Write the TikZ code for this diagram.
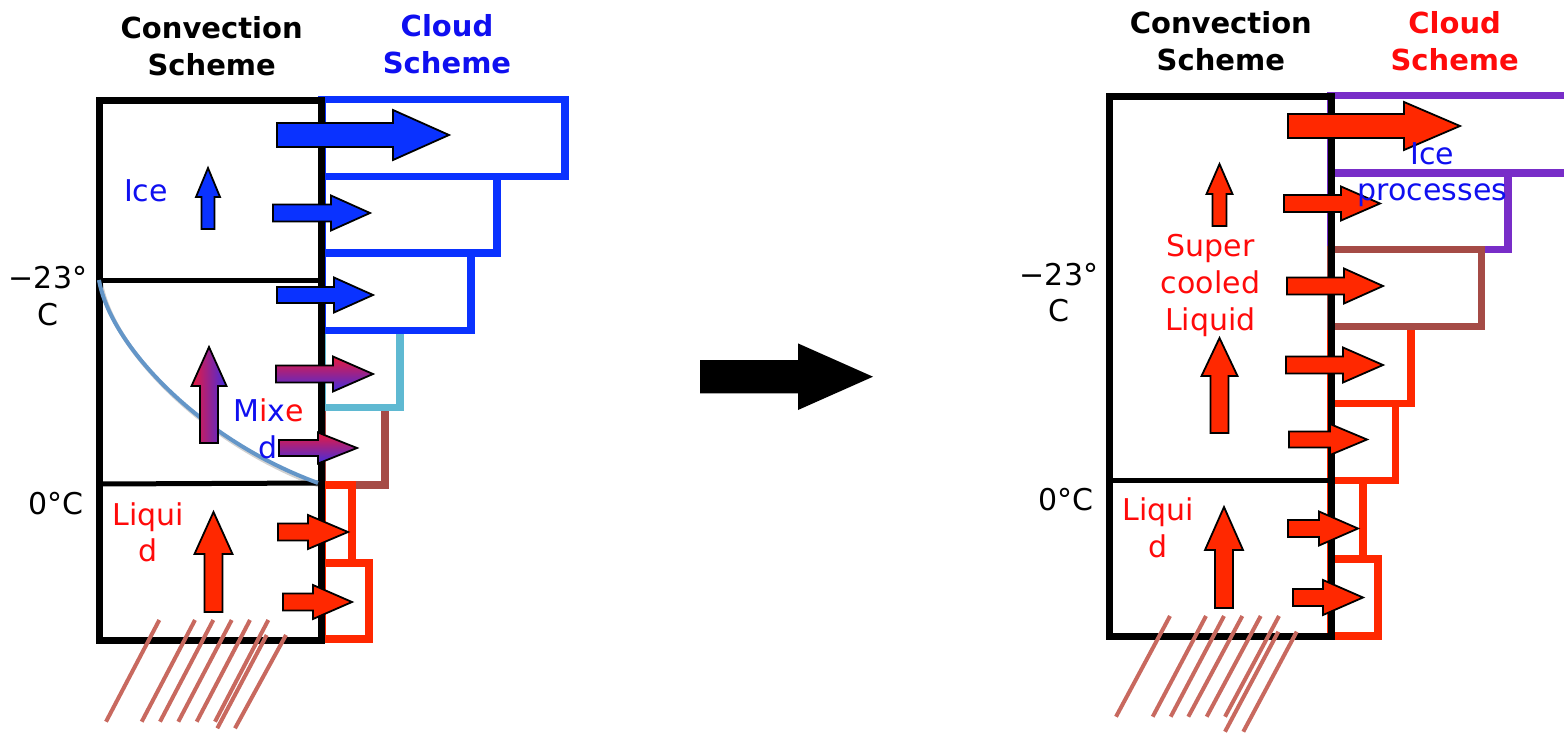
\documentclass[tikz,border=0pt]{standalone}
\usepackage{fontspec}
\setmainfont{DejaVu Sans}

\definecolor{cloudblue}{RGB}{10,50,255}
\definecolor{txtblue}{RGB}{15,15,240}
\definecolor{txtred}{RGB}{255,10,10}
\definecolor{arrred}{RGB}{255,40,0}
\definecolor{cyanbox}{RGB}{95,185,210}
\definecolor{brownbox}{RGB}{165,75,70}
\definecolor{purplebox}{RGB}{120,45,200}
\definecolor{hatchcol}{RGB}{200,105,95}
\definecolor{curveblue}{RGB}{100,150,200}
\definecolor{mixred}{RGB}{235,25,60}
\definecolor{mixblue}{RGB}{65,45,225}

% horizontal block arrow: tail x, centre y, head base x, tip x, shaft half height, head half height, style
\newcommand{\harrow}[7]{%
  \path[#7] (#1,#2-#5) -- (#3,#2-#5) -- (#3,#2-#6) -- (#4,#2) -- (#3,#2+#6)
    -- (#3,#2+#5) -- (#1,#2+#5) -- cycle;}
% vertical block arrow: centre x, tip y, head base y, bottom y, shaft half width, head half width, style
\newcommand{\varrow}[7]{%
  \path[#7] (#1-#5,#4) -- (#1-#5,#3) -- (#1-#6,#3) -- (#1,#2) -- (#1+#6,#3)
    -- (#1+#5,#3) -- (#1+#5,#4) -- cycle;}

\tikzset{
  cloudline/.style={line width=7.5pt, line join=miter},
  frameline/.style={line width=7pt, line join=miter},
  divider/.style={line width=5pt},
  blockarrow/.style={draw=black, line width=1.8pt, line join=miter},
  redarrow/.style={fill=arrred, blockarrow},
  bluearrow/.style={fill=cloudblue, blockarrow},
  mixharrow/.style={top color=mixred, bottom color=mixblue, blockarrow},
  mixvarrow/.style={left color=mixred, right color=mixblue, blockarrow},
  hatchline/.style={draw=hatchcol, line width=4pt},
  % multi-line labels are placed by the baseline of their last line
  title/.style={font=\fontsize{29}{37}\selectfont\bfseries, align=center, anchor=base, inner sep=0pt},
  label/.style={font=\fontsize{30}{36.6}\selectfont, align=center, anchor=base, inner sep=0pt},
}

\begin{document}
\begin{tikzpicture}[x=1pt, y=-1pt]
\useasboundingbox (0,0) rectangle (1564,734);

%% ---------------- left panel ----------------
% cloud scheme layers
\draw[cloudline, brownbox] (322,407.5) rectangle (385,485);
\draw[cloudline, arrred] (322,485) rectangle (352,563);
\draw[cloudline, arrred] (322,563) rectangle (369,639);
\draw[cloudline, cyanbox] (322,330.5) rectangle (400,407.5);
\draw[cloudline, cloudblue] (322,253) rectangle (471,330.5);
\draw[cloudline, cloudblue] (322,176.5) rectangle (497,253);
\draw[cloudline, cloudblue] (322,99.5) rectangle (565,176.5);

% convection column
\draw[frameline] (99,100) rectangle (321,640);
\draw[divider] (99,280) -- (321,280);
\draw[divider] (99,484) -- (321,483);

% mixed-phase boundary
\draw[line width=4pt, black, opacity=0.18] (101,283) .. controls (112,348) and (202,443) .. (320,486);
\draw[line width=4pt, curveblue] (99,280) .. controls (110,345) and (200,440) .. (318,483);

% surface forcing
\foreach \a/\b/\c/\d in {159.3/620/106/721.7, 195/620/141.7/721.7, 213.3/620/160/721.7,
  231.7/620/178.3/721.7, 250/620/196.7/721.7, 268.3/620/215/721.7,
  266.7/635/217.3/728.3, 286/635/235/728.3}
  \draw[hatchline] (\a,\b) -- (\c,\d);

% detrainment arrows
\harrow{277}{135}{393}{449}{12}{25}{bluearrow}
\harrow{273}{213}{331}{370}{8.5}{17.5}{bluearrow}
\harrow{277}{295}{334}{373}{8}{17.5}{bluearrow}
\harrow{276}{374}{333}{373}{8.5}{17.5}{mixharrow}
\harrow{279}{448}{318}{357}{8}{15.5}{mixharrow}
\harrow{278}{532}{308}{348}{8.5}{17}{redarrow}
\harrow{283}{602}{313}{352}{8.5}{17}{redarrow}

% updraught arrows
\varrow{208}{168}{197}{229}{6.5}{12}{bluearrow}
\varrow{209}{347}{386}{443}{9}{17.5}{mixvarrow}
\varrow{213.5}{512}{554}{612}{9}{19}{redarrow}

% labels
\node[title] (convL) at (211.7,75) {Convection\\Scheme};
\node[title, text=txtblue] (cloudL) at (447,73) {Cloud\\Scheme};
\node[label, text=txtblue] (iceL) at (146,201.7) {Ice};
\node[label] (tempL) at (48,325) {−23°\\C};
\node[label] (zeroL) at (56,514.3) {0°C};
\node[label, text=txtred] (liqL) at (148.5,561.7) {Liqui\\d};
\node[label] (mixL) at (268.5,458.5)
  {{\color{txtblue}M}{\color{txtred}i}{\color{txtblue}x}{\color{txtred}e}\\{\color{txtblue}d}};

%% ---------------- transition arrow ----------------
\harrow{700}{376.7}{798}{873}{16.7}{33.3}{fill=black}

%% ---------------- right panel ----------------
\draw[cloudline, arrred] (1331,326.3) rectangle (1411,403.7);
\draw[cloudline, arrred] (1331,403.7) rectangle (1395.3,480.5);
\draw[cloudline, arrred] (1331,480.5) rectangle (1363,559);
\draw[cloudline, arrred] (1331,559) rectangle (1378,636);
\draw[cloudline, purplebox] (1331,173) rectangle (1508,249.5);
\draw[cloudline, purplebox] (1564,95.4) -- (1331,95.4) -- (1331,173) -- (1564,173);
\draw[cloudline, brownbox] (1331,249.5) rectangle (1481.7,326.3);

\draw[frameline] (1109.5,96) rectangle (1331,636);
\draw[divider] (1109.5,480) -- (1331,480);

\foreach \a/\b/\c/\d in {1170/616/1116/716.7, 1206/616/1152.7/716.7, 1224/616/1170.7/716.7,
  1242.3/616/1188.3/716.7, 1260.7/616/1206.7/716.7, 1279/616/1225/716.7,
  1278.3/631.7/1225/731.7, 1296.7/631.7/1243.3/731.7}
  \draw[hatchline] (\a,\b) -- (\c,\d);

\harrow{1288}{126}{1404}{1460}{12}{24}{redarrow}
\harrow{1284}{203.5}{1341}{1380}{8.5}{17}{redarrow}
\harrow{1287}{286}{1344}{1383}{8.5}{17.5}{redarrow}
\harrow{1286}{365}{1343}{1383}{8.5}{17.5}{redarrow}
\harrow{1289}{439.5}{1330}{1367}{8}{15.5}{redarrow}
\harrow{1288}{528.5}{1319}{1358}{8.5}{17}{redarrow}
\harrow{1293}{597.5}{1323}{1363}{8.5}{17.5}{redarrow}

\varrow{1219.5}{164}{194}{226}{7}{13}{redarrow}
\varrow{1219.5}{338}{376}{433}{9}{18}{redarrow}
\varrow{1224}{507}{550}{608}{9}{19}{redarrow}

\node[title] (convR) at (1220.8,70.7) {Convection\\Scheme};
\node[title, text=txtred] (cloudR) at (1454.7,70.7) {Cloud\\Scheme};
\node[label, text=txtred] (superR) at (1210.5,330) {Super\\cooled\\Liquid};
\node[label, text=txtblue] (iceR) at (1432.5,200.7) {Ice\\processes};
\node[label] (tempR) at (1059,321.7) {−23°\\C};
\node[label] (zeroR) at (1066,510) {0°C};
\node[label, text=txtred] (liqR) at (1158.5,557.3) {Liqui\\d};
\end{tikzpicture}
\end{document}
